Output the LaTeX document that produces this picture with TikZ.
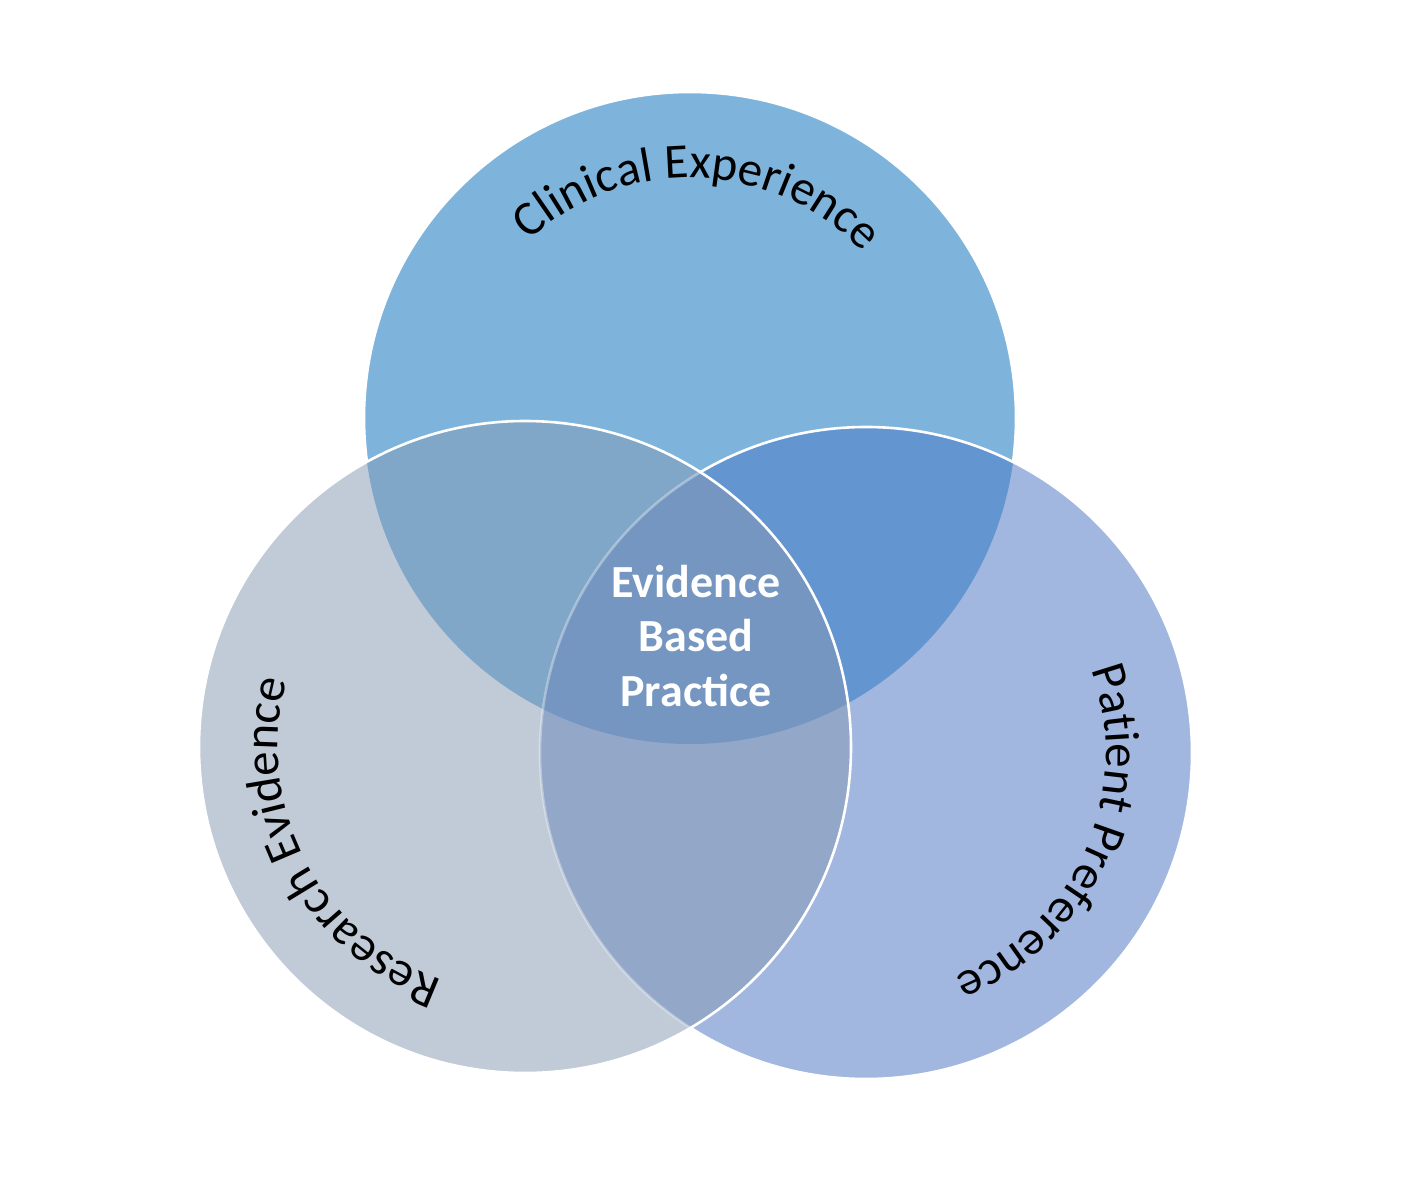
\documentclass[tikz,border=0pt]{standalone}
\usepackage{fontspec}
\setmainfont{Carlito}
\usetikzlibrary{decorations.text,calc}
\definecolor{cT}{HTML}{7EB4DC}
\definecolor{cR}{HTML}{A1B7E0}
\definecolor{cL}{HTML}{C1CBD8}
\definecolor{cTL}{HTML}{80A6C8}
\definecolor{cTR}{HTML}{6395D1}
\definecolor{cLR}{HTML}{93A7C9}
\definecolor{cC}{HTML}{7496C0}
\newcommand\curvefont{\fontsize{24.5}{28}\selectfont}
\tikzset{
  edge/.style={draw=white, line width=1.3pt},
  faintedge/.style={draw=white, draw opacity=0.35, line width=1.3pt},
  curvelabel/.style={decorate, decoration={text along path, text align=center, text={|\curvefont|#1}}},
  centerlabel/.style={text=white, align=center, font=\bfseries\fontsize{23}{27.2}\selectfont}
}
\begin{document}
\begin{tikzpicture}[x=0.5pt,y=0.5pt]
\useasboundingbox (0,0) rectangle (1418,1180);
\coordinate (T) at (690,762);
\coordinate (L) at (525,433);
\coordinate (R) at (866,427);
% top circle
\fill[cT] (T) circle[radius=326];
\path[edge] (T) circle[radius=326];
% right circle
\fill[cR] (R) circle[radius=326];
\begin{scope}
  \clip (T) circle[radius=326];
  \fill[cTR] (R) circle[radius=326];
\end{scope}
\path[edge] (R) circle[radius=326];
% left circle
\fill[cL] (L) circle[radius=326];
\begin{scope}
  \clip (L) circle[radius=326];
  \begin{scope}
    \clip (T) circle[radius=326];
    \fill[cTL] (L) circle[radius=326];
  \end{scope}
  \begin{scope}
    \clip (R) circle[radius=326];
    \fill[cLR] (L) circle[radius=326];
  \end{scope}
  \begin{scope}
    \clip (T) circle[radius=326];
    \clip (R) circle[radius=326];
    \fill[cC] (L) circle[radius=326];
  \end{scope}
  \path[faintedge] (R) circle[radius=326];
\end{scope}
\path[edge] (L) circle[radius=326];
% curved labels
\path[curvelabel={Clinical Experience}] ($(T)+(176:240)$) arc[start angle=176, end angle=0, radius=240];
\path[curvelabel={Research Evidence}] ($(L)+(261.5:247)$) arc[start angle=261.5, end angle=153.5, radius=247];
\path[curvelabel={Patient Preference}] ($(R)+(30:240)$) arc[start angle=30, end angle=-78, radius=240];
% centre label
\node[centerlabel] (ebp) at (696,544) {Evidence\\Based\\Practice};
\end{tikzpicture}
\end{document}
